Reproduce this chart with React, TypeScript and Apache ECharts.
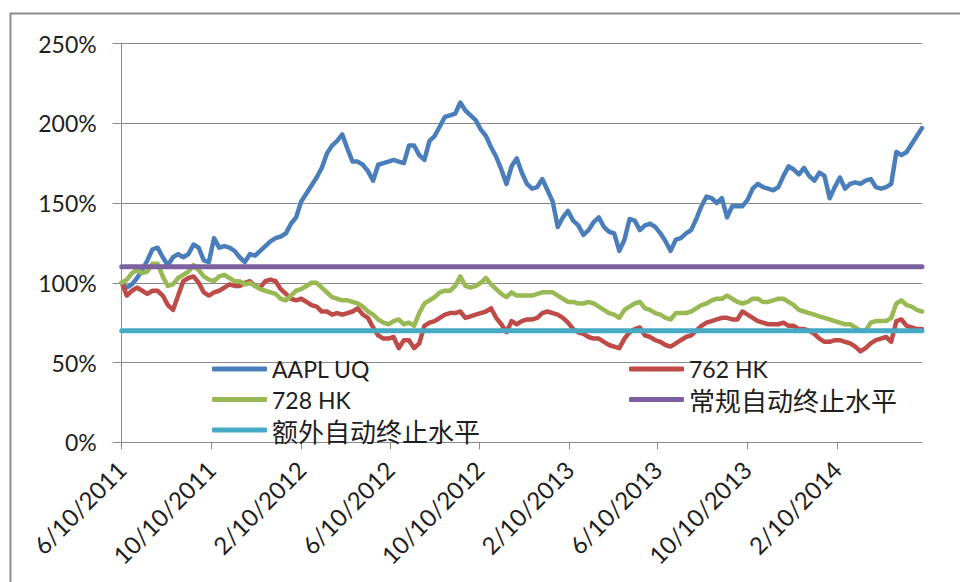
import React, { useEffect, useRef } from "react";
import * as echarts from "echarts";

// ---- data ----
const startDate = "2011-06-10"; // first trading date shown
const endDate = "2014-06-06"; // last date of the axis
const sampleStepDays = 7; // one reading per week

const tickLabels = [
  "6/10/2011",
  "10/10/2011",
  "2/10/2012",
  "6/10/2012",
  "10/10/2012",
  "2/10/2013",
  "6/10/2013",
  "10/10/2013",
  "2/10/2014",
];

const seriesNames = ["AAPL UQ", "762 HK", "728 HK", "常规自动终止水平", "额外自动终止水平"];

const aaplUQ = [
  100, 97, 99, 103, 108, 114, 121, 122, 116, 111, 116, 118, 116, 118, 124, 122, 114, 113, 128, 122,
  123, 122, 120, 116, 113, 118, 117, 120, 123, 126, 128, 129, 131, 137, 141, 151, 156, 161, 166, 172,
  181, 186, 189, 193, 184, 176, 176, 174, 170, 164, 174, 175, 176, 177, 176, 175, 186, 186, 180, 177,
  189, 192, 198, 204, 205, 206, 213, 208, 205, 202, 196, 192, 185, 179, 171, 162, 173, 178, 169, 162,
  159, 160, 165, 158, 151, 135, 141, 145, 139, 136, 130, 133, 138, 141, 135, 132, 131, 120, 127, 140,
  139, 133, 136, 137, 135, 131, 126, 120, 127, 128, 131, 133, 140, 148, 154, 153, 150, 153, 141, 148,
  148, 148, 152, 159, 162, 160, 159, 158, 160, 167, 173, 171, 168, 172, 167, 164, 169, 167, 153, 160,
  166, 159, 162, 163, 162, 164, 165, 160, 159, 160, 162, 182, 180, 182, 187, 192, 197,
];

const hk762 = [
  100, 92, 95, 97, 95, 93, 95, 95, 92, 86, 83, 92, 101, 103, 104, 100, 94, 92, 94, 95,
  97, 99, 98, 98, 100, 101, 98, 97, 101, 102, 101, 96, 93, 90, 89, 90, 88, 86, 85, 82,
  82, 80, 81, 80, 81, 82, 84, 80, 78, 72, 67, 65, 65, 66, 59, 64, 64, 59, 62, 73,
  75, 76, 78, 80, 81, 81, 82, 78, 79, 80, 81, 82, 84, 78, 74, 69, 76, 74, 76, 77,
  77, 78, 81, 82, 81, 80, 78, 75, 71, 69, 68, 66, 65, 65, 63, 61, 60, 59, 65, 69,
  71, 72, 67, 66, 64, 63, 61, 60, 62, 64, 66, 67, 70, 73, 75, 76, 77, 78, 78, 77,
  77, 82, 80, 78, 76, 75, 74, 74, 74, 75, 73, 73, 71, 71, 70, 68, 65, 63, 63, 64,
  64, 63, 62, 60, 57, 59, 62, 64, 65, 66, 63, 76, 77, 73, 72, 71, 71,
];

const hk728 = [
  100, 102, 106, 108, 106, 107, 112, 112, 104, 98, 99, 103, 105, 107, 111, 108, 104, 102, 101, 104,
  105, 103, 101, 101, 99, 100, 98, 96, 95, 94, 93, 90, 89, 92, 95, 96, 98, 100, 100, 97,
  94, 91, 90, 89, 89, 88, 87, 85, 82, 80, 77, 75, 74, 76, 77, 74, 75, 73, 81, 87,
  89, 91, 94, 95, 95, 98, 104, 98, 97, 98, 100, 103, 99, 96, 93, 91, 94, 92, 92, 92,
  92, 93, 94, 94, 94, 92, 90, 88, 88, 87, 87, 88, 87, 85, 83, 81, 80, 78, 83, 85,
  87, 88, 84, 83, 81, 80, 78, 77, 81, 81, 81, 82, 84, 86, 87, 89, 90, 90, 92, 90,
  88, 87, 88, 90, 90, 88, 88, 89, 90, 90, 88, 86, 83, 82, 81, 80, 79, 78, 77, 76,
  75, 74, 74, 72, 70, 70, 75, 76, 76, 76, 78, 87, 89, 86, 85, 83, 82,
];

const regularKnockOutLevel = 110;
const extraKnockOutLevel = 70;

const yMin = 0;
const yMax = 250;
const yInterval = 50;

// ---- helpers ----
function buildDailyCategories(start: string, end: string): string[] {
  const out: string[] = [];
  const d = new Date(start + "T00:00:00Z");
  const e = new Date(end + "T00:00:00Z");
  while (d.getTime() <= e.getTime()) {
    out.push(`${d.getUTCMonth() + 1}/${d.getUTCDate()}/${d.getUTCFullYear()}`);
    d.setUTCDate(d.getUTCDate() + 1);
  }
  return out;
}

const COLORS = ["#4A7EBB", "#BE4B48", "#98B954", "#7D60A0", "#46AAC5"];
const GRID_GRAY = "#898989";
const TEXT = "#1e1e1e";
const FONT = "Lato, 'Liberation Sans', sans-serif";
const CJK_FONT = "'Noto Sans CJK SC', sans-serif";

export default function App() {
  const ref = useRef<HTMLDivElement>(null);

  useEffect(() => {
    if (!ref.current) return;
    const chart = echarts.init(ref.current, undefined, { renderer: "svg" });

    const categories = buildDailyCategories(startDate, endDate);
    const lastIdx = categories.length - 1;
    const toPoints = (vals: number[]) => vals.map((v, i) => [i * sampleStepDays, v]);
    const isTick = (_i: number, v: string) => tickLabels.includes(v);

    const lineSeries = (name: string, data: number[][], color: string, width: number) => ({
      name,
      type: "line",
      data,
      showSymbol: false,
      symbol: "none",
      color,
      lineStyle: { color, width, cap: "round", join: "round" },
      emphasis: { disabled: true },
    });

    const legendCommon = {
      orient: "vertical",
      icon: "roundRect",
      itemWidth: 55,
      itemHeight: 5,
      itemGap: 4.5,
      padding: 0,
      top: 356,
      formatter: (name: string) => (/[\u4e00-\u9fff]/.test(name) ? `{cjk|${name}}` : name),
      textStyle: {
        fontSize: 23,
        fontFamily: FONT,
        color: TEXT,
        lineHeight: 26,
        rich: {
          cjk: { fontSize: 26, fontFamily: CJK_FONT, color: TEXT, lineHeight: 26 },
        },
      },
    };

    chart.setOption({
      animation: false,
      grid: {
        left: 121.7,
        right: 38,
        top: 43.5,
        bottom: 139.7,
        containLabel: false,
        outerBoundsMode: "none",
      },
      graphic: [
        {
          type: "rect",
          silent: true,
          z: -10,
          shape: { x: 10.5, y: 13.5, width: 1000, height: 700 },
          style: { fill: "none", stroke: "#8c8c8c", lineWidth: 2 },
        },
      ],
      legend: [
        { ...legendCommon, left: 212, data: [seriesNames[0], seriesNames[2], seriesNames[4]] },
        { ...legendCommon, left: 629, data: [seriesNames[1], seriesNames[3]] },
      ],
      xAxis: {
        type: "category",
        data: categories,
        boundaryGap: false,
        axisLine: { show: true, lineStyle: { color: GRID_GRAY, width: 1 } },
        axisTick: { show: true, interval: isTick, length: 7, lineStyle: { color: GRID_GRAY } },
        axisLabel: {
          interval: isTick,
          rotate: 45,
          margin: 23,
          fontSize: 24,
          fontFamily: FONT,
          color: TEXT,
        },
        splitLine: { show: false },
      },
      yAxis: {
        type: "value",
        min: yMin,
        max: yMax,
        interval: yInterval,
        axisLine: { show: true, lineStyle: { color: GRID_GRAY, width: 1 } },
        axisTick: { show: true, length: 9, lineStyle: { color: GRID_GRAY } },
        axisLabel: {
          formatter: "{value}%",
          margin: 25,
          fontSize: 23,
          fontFamily: FONT,
          color: TEXT,
        },
        splitLine: { show: true, lineStyle: { color: GRID_GRAY, width: 1 } },
      },
      series: [
        lineSeries(seriesNames[0], toPoints(aaplUQ), COLORS[0], 4.5),
        lineSeries(seriesNames[1], toPoints(hk762), COLORS[1], 4.5),
        lineSeries(seriesNames[2], toPoints(hk728), COLORS[2], 4.5),
        lineSeries(
          seriesNames[3],
          [
            [0, regularKnockOutLevel],
            [lastIdx, regularKnockOutLevel],
          ],
          COLORS[3],
          5
        ),
        lineSeries(
          seriesNames[4],
          [
            [0, extraKnockOutLevel],
            [lastIdx, extraKnockOutLevel],
          ],
          COLORS[4],
          5
        ),
      ],
    });

    return () => chart.dispose();
  }, []);

  return (
    <div
      ref={ref}
      style={{ position: "fixed", left: 0, top: 0, width: 960, height: 582, background: "#fff" }}
    />
  );
}
